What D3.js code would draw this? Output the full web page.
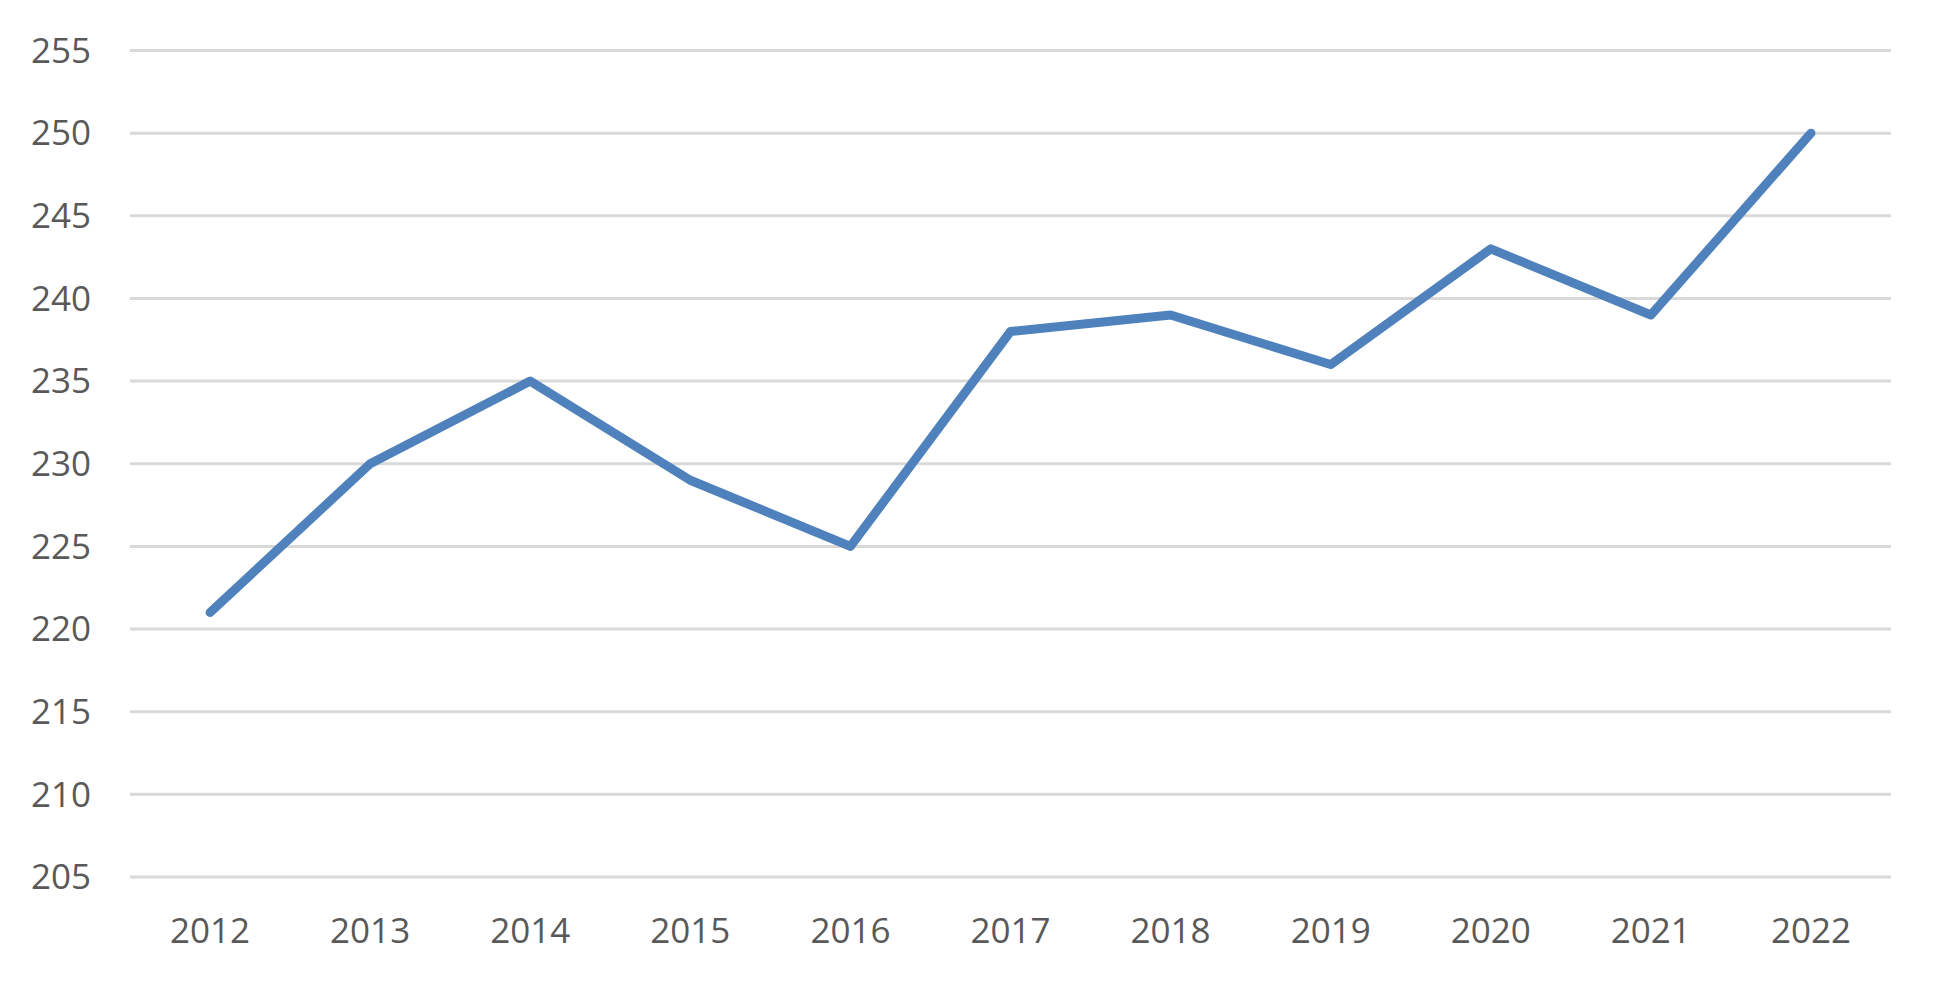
<!DOCTYPE html>
<html>
<head>
<meta charset="utf-8">
<script src="https://cdn.jsdelivr.net/npm/d3@7"></script>
<style>
  html, body { margin: 0; padding: 0; background: #ffffff; }
  svg { display: block; }
</style>
</head>
<body>
<svg id="chart" width="1941" height="984"></svg>
<script>
const years = ["2012","2013","2014","2015","2016","2017","2018","2019","2020","2021","2022"];
const values = [221, 230, 235, 229, 225, 238, 239, 236, 243, 239, 250];
const yTicks = [205, 210, 215, 220, 225, 230, 235, 240, 245, 250, 255];

(function () {
  const svg = d3.select("#chart");
  const plotLeft = 130, plotRight = 1891, plotTop = 50.5, plotBottom = 877;

  const x = d3.scalePoint().domain(years).range([plotLeft, plotRight]).padding(0.5);
  const y = d3.scaleLinear().domain([205, 255]).range([plotBottom, plotTop]);

  // gridlines
  svg.append("g").selectAll("line").data(yTicks).join("line")
    .attr("x1", plotLeft).attr("x2", plotRight)
    .attr("y1", d => y(d)).attr("y2", d => y(d))
    .attr("stroke", "#d9d9d9").attr("stroke-width", 3);

  // y labels
  svg.append("g").selectAll("text").data(yTicks).join("text")
    .attr("x", 91).attr("y", d => y(d))
    .attr("dy", "0.35em")
    .attr("text-anchor", "end")
    .attr("font-family", "'Open Sans', sans-serif")
    .attr("font-size", 35)
    .attr("fill", "#595959")
    .text(d => d);

  // x labels
  svg.append("g").selectAll("text").data(years).join("text")
    .attr("x", d => x(d)).attr("y", 943)
    .attr("text-anchor", "middle")
    .attr("font-family", "'Open Sans', sans-serif")
    .attr("font-size", 35)
    .attr("fill", "#595959")
    .text(d => d);

  // line
  const line = d3.line().x((d, i) => x(years[i])).y(d => y(d));
  svg.append("path").datum(values)
    .attr("d", line)
    .attr("fill", "none")
    .attr("stroke", "#4f81bd")
    .attr("stroke-width", 9)
    .attr("stroke-linecap", "round")
    .attr("stroke-linejoin", "round");
})();
</script>
</body>
</html>
